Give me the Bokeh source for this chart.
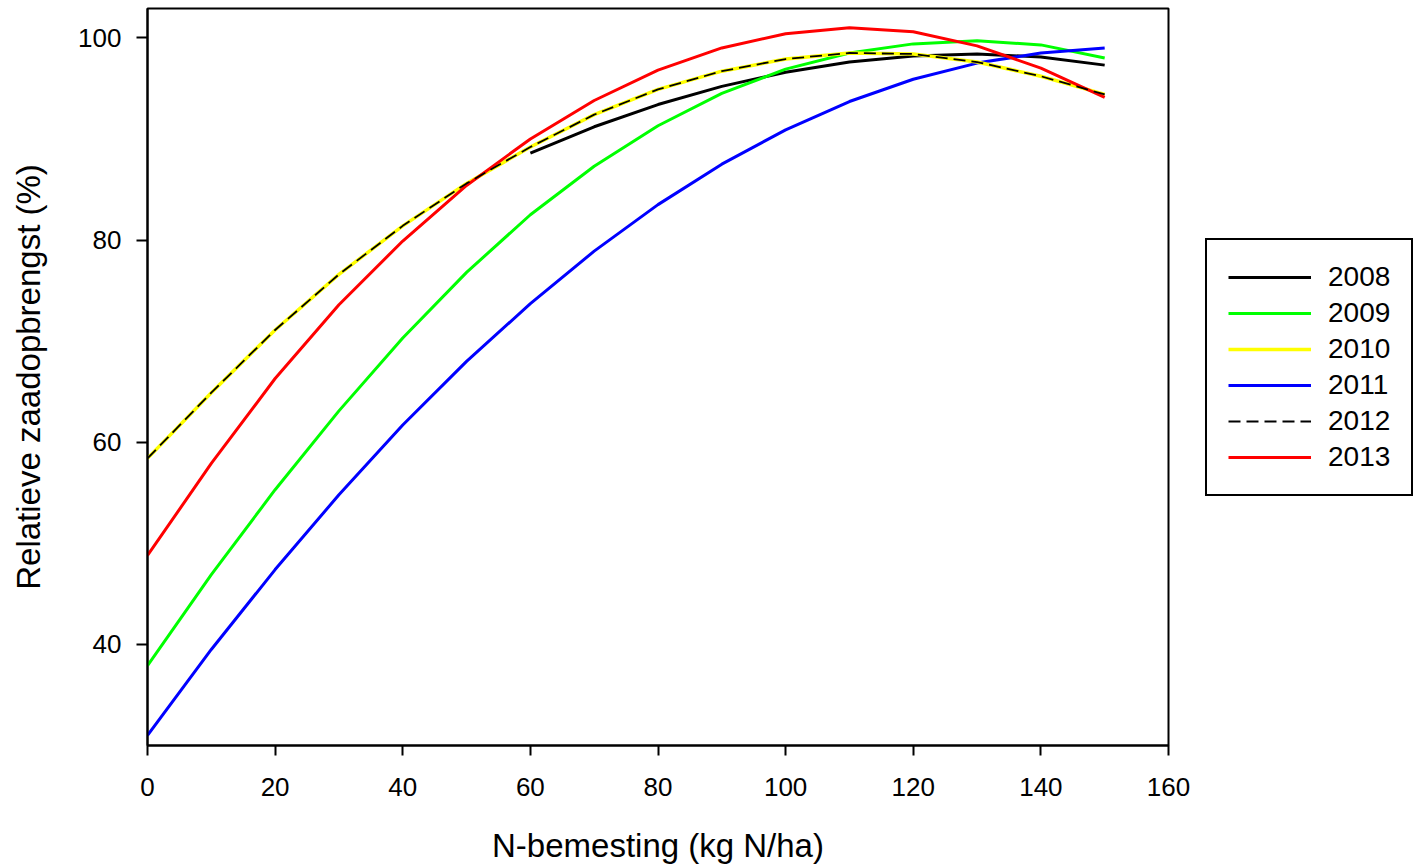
from bokeh.plotting import figure
from bokeh.models import Legend, LegendItem, FixedTicker
from bokeh.embed import file_html
from bokeh.resources import INLINE

# N-bemesting (kg N/ha)
n_full = [0, 10, 20, 30, 40, 50, 60, 70, 80, 90, 100, 110, 120, 130, 140, 150]
n_2008 = [60, 70, 80, 90, 100, 110, 120, 130, 140, 150]

# Relatieve zaadopbrengst (%)
y_2008 = [88.6, 91.2, 93.4, 95.2, 96.6, 97.6, 98.2, 98.4, 98.1, 97.3]
y_2009 = [37.9, 46.9, 55.3, 63.1, 70.3, 76.8, 82.5, 87.3, 91.3, 94.5, 96.9, 98.5, 99.4, 99.7, 99.3, 98.0]
y_2010 = [58.4, 64.9, 71.1, 76.6, 81.4, 85.6, 89.2, 92.4, 94.9, 96.7, 97.9, 98.5, 98.4, 97.6, 96.2, 94.4]
y_2011 = [31.0, 39.5, 47.4, 54.8, 61.7, 68.0, 73.7, 78.9, 83.5, 87.5, 90.9, 93.7, 95.9, 97.5, 98.5, 99.0]
y_2012 = [58.4, 64.9, 71.1, 76.6, 81.4, 85.6, 89.2, 92.4, 94.9, 96.7, 97.9, 98.5, 98.4, 97.6, 96.2, 94.4]
y_2013 = [48.8, 57.9, 66.3, 73.6, 79.9, 85.4, 90.0, 93.8, 96.8, 99.0, 100.4, 101.0, 100.6, 99.2, 97.0, 94.1]

x_ticks = [0, 20, 40, 60, 80, 100, 120, 140, 160]
y_ticks = [40, 60, 80, 100]
years = ["2008", "2009", "2010", "2011", "2012", "2013"]

FONT = "Liberation Sans"

p = figure(
    frame_width=1021, frame_height=737,
    x_range=(0, 160), y_range=(30, 102.9),
    output_backend="svg", toolbar_location=None,
    min_border_left=147, min_border_top=8, min_border_right=10, min_border_bottom=4,
)
p.grid.visible = False
p.outline_line_color = "black"
p.outline_line_width = 2
p.background_fill_color = "white"
p.border_fill_color = "white"

for ax in (p.xaxis, p.yaxis):
    ax.axis_line_color = "black"
    ax.axis_line_width = 2
    ax.major_tick_line_color = "black"
    ax.major_tick_line_width = 2
    ax.major_tick_in = 0
    ax.minor_tick_line_color = None
    ax.major_label_text_font = FONT
    ax.major_label_text_font_size = "26px"
    ax.major_label_text_color = "black"
    ax.axis_label_text_font = FONT
    ax.axis_label_text_font_size = "33px"
    ax.axis_label_text_font_style = "normal"
    ax.axis_label_text_color = "black"

p.xaxis.ticker = FixedTicker(ticks=x_ticks)
p.yaxis.ticker = FixedTicker(ticks=y_ticks)
p.xaxis.major_tick_out = 10
p.yaxis.major_tick_out = 11
p.xaxis.major_label_standoff = 22
p.yaxis.major_label_standoff = 15
p.xaxis.axis_label = "N-bemesting (kg N/ha)"
p.yaxis.axis_label = "Relatieve zaadopbrengst (%)"
p.xaxis.axis_label_standoff = 28
p.yaxis.axis_label_standoff = 28

r08 = p.line(n_2008, y_2008, line_color="black", line_width=3)
r09 = p.line(n_full, y_2009, line_color="#00FF00", line_width=3)
r11 = p.line(n_full, y_2011, line_color="#0000FF", line_width=3)
r10 = p.line(n_full, y_2010, line_color="#FFFF00", line_width=3.5)
r13 = p.line(n_full, y_2013, line_color="#FF0000", line_width=3)
r12 = p.line(n_full, y_2012, line_color="black", line_width=1.8, line_dash="12 6")

legend = Legend(
    items=[LegendItem(label=y, renderers=[r]) for y, r in zip(years, [r08, r09, r10, r11, r12, r13])],
    location=(37, 249),
    orientation="vertical",
    border_line_color="black", border_line_width=2, border_line_alpha=1,
    background_fill_color="white", background_fill_alpha=1,
    label_text_font=FONT, label_text_font_size="28px", label_text_color="black",
    glyph_width=83, glyph_height=28, label_height=28, spacing=4,
    padding=21, margin=0, label_standoff=17,
)
p.add_layout(legend, "right")

open("out.html", "w").write(file_html(p, INLINE))
